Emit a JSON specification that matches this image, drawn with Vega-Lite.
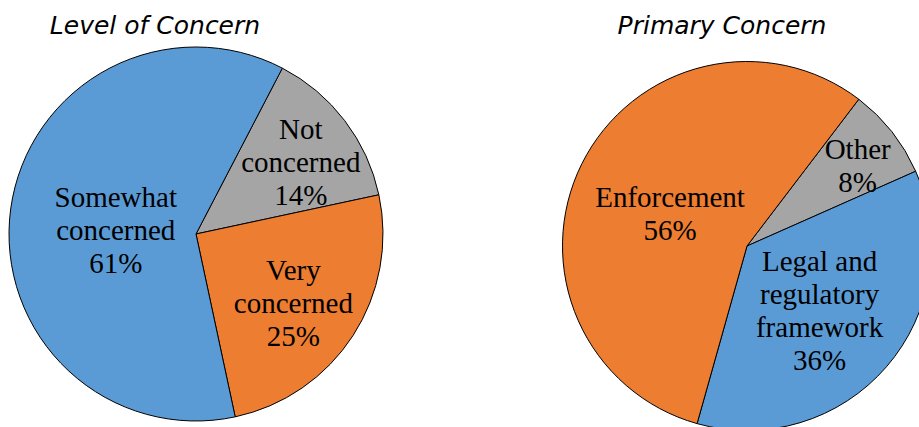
{
  "$schema": "https://vega.github.io/schema/vega-lite/v6.json",
  "padding": {"left": 0, "right": 0, "top": 14, "bottom": 0},
  "background": "white",
  "spacing": 168,
  "config": {
    "view": {"stroke": null},
    "title": {"font": "DejaVu Sans", "fontStyle": "italic", "fontWeight": "normal", "fontSize": 25, "color": "#000000", "baseline": "alphabetic", "offset": 1, "anchor": "middle"},
    "text": {"font": "Liberation Serif", "fontSize": 29, "lineHeight": 33, "lineBreak": "\n", "align": "center", "baseline": "middle", "fill": "#000000"}
  },
  "resolve": {"scale": {"color": "independent", "theta": "independent"}},
  "hconcat": [
    {
      "width": 392,
      "height": 388,
      "title": {"text": "Level of Concern", "dx": -41},
      "data": {"values": [
        {"i": 1, "category": "Not concerned", "label": "Not\nconcerned\n14%", "percent": 14},
        {"i": 2, "category": "Very concerned", "label": "Very\nconcerned\n25%", "percent": 25},
        {"i": 3, "category": "Somewhat concerned", "label": "Somewhat\nconcerned\n61%", "percent": 61}
      ]},
      "encoding": {
        "theta": {"field": "percent", "type": "quantitative", "stack": true, "scale": {"domain": [0, 100], "range": [0.48, 6.7632]}},
        "order": {"field": "i", "type": "quantitative"}
      },
      "layer": [
        {
          "mark": {"type": "arc", "outerRadius": 187, "stroke": "#000000", "strokeWidth": 1},
          "encoding": {"color": {"field": "category", "type": "nominal", "legend": null, "scale": {"domain": ["Not concerned", "Very concerned", "Somewhat concerned"], "range": ["#A5A5A5", "#ED7D31", "#5B9BD5"]}}}
        },
        {
          "mark": {"type": "text", "radius": 81, "dy": -25},
          "encoding": {"detail": {"field": "category"}, "text": {"condition": {"test": "datum.category === 'Somewhat concerned'", "field": "label"}, "value": ""}}
        },
        {
          "mark": {"type": "text", "radius": 128, "dx": 3, "dy": -26},
          "encoding": {"detail": {"field": "category"}, "text": {"condition": {"test": "datum.category === 'Not concerned'", "field": "label"}, "value": ""}}
        },
        {
          "mark": {"type": "text", "radius": 116, "dy": -26},
          "encoding": {"detail": {"field": "category"}, "text": {"condition": {"test": "datum.category === 'Very concerned'", "field": "label"}, "value": ""}}
        }
      ]
    },
    {
      "width": 370,
      "height": 412,
      "title": {"text": "Primary Concern", "dx": -25},
      "data": {"values": [
        {"i": 1, "category": "Other", "label": "Other\n8%", "percent": 8},
        {"i": 2, "category": "Legal and regulatory framework", "label": "Legal and\nregulatory\nframework\n36%", "percent": 36},
        {"i": 3, "category": "Enforcement", "label": "Enforcement\n56%", "percent": 56}
      ]},
      "encoding": {
        "theta": {"field": "percent", "type": "quantitative", "stack": true, "scale": {"domain": [0, 100], "range": [0.651, 6.9342]}},
        "order": {"field": "i", "type": "quantitative"}
      },
      "layer": [
        {
          "mark": {"type": "arc", "outerRadius": 184.5, "stroke": "#000000", "strokeWidth": 1},
          "encoding": {"color": {"field": "category", "type": "nominal", "legend": null, "scale": {"domain": ["Other", "Legal and regulatory framework", "Enforcement"], "range": ["#A5A5A5", "#5B9BD5", "#ED7D31"]}}}
        },
        {
          "mark": {"type": "text", "radius": 141, "dy": -9},
          "encoding": {"detail": {"field": "category"}, "text": {"condition": {"test": "datum.category === 'Other'", "field": "label"}, "value": ""}}
        },
        {
          "mark": {"type": "text", "radius": 96, "dy": -47},
          "encoding": {"detail": {"field": "category"}, "text": {"condition": {"test": "datum.category === 'Legal and regulatory framework'", "field": "label"}, "value": ""}}
        },
        {
          "mark": {"type": "text", "radius": 86, "dy": -10},
          "encoding": {"detail": {"field": "category"}, "text": {"condition": {"test": "datum.category === 'Enforcement'", "field": "label"}, "value": ""}}
        }
      ]
    }
  ]
}
